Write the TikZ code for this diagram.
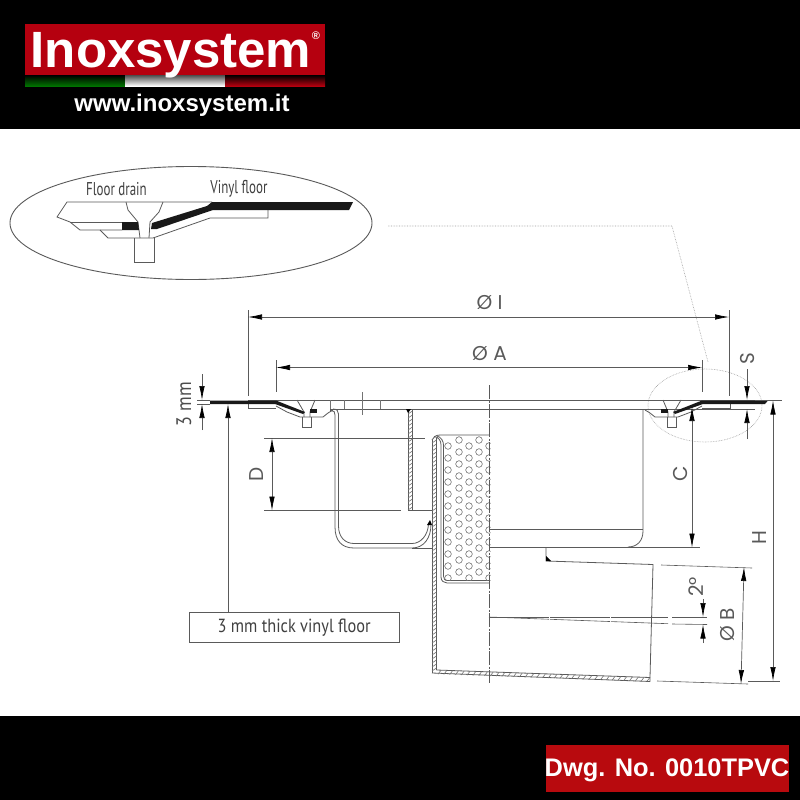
\documentclass[tikz,border=0pt]{standalone}
\usepackage{fontspec}
\setmainfont{Liberation Sans}
\newfontfamily\drawfont[FakeStretch=0.86]{PT Sans}
\newfontfamily\narrowfont[FakeStretch=0.7]{PT Sans}
\newfontfamily\dimfont{Poppins}
\usetikzlibrary{arrows.meta,shapes.geometric}
\definecolor{ink}{HTML}{5A5A5A}
\definecolor{logored}{HTML}{B5000F}
\definecolor{dwgred}{HTML}{B80A0E}
\tikzset{
  ln/.style={draw=ink,line width=0.8pt},
  fine/.style={draw=ink!85,line width=0.6pt},
  dim/.style={draw=ink,line width=0.7pt,{Latex[length=14pt,width=5.5pt,black]}-{Latex[length=14pt,width=5.5pt,black]}},
  dimend/.style={draw=ink,line width=0.7pt,-{Latex[length=14pt,width=5.5pt,black]}},
  ext/.style={draw=ink,line width=0.6pt},
  lab/.style={font=\narrowfont\fontsize{18.5}{18.5}\selectfont,text=black!75,inner sep=0pt},
  dimlab/.style={font=\dimfont\fontsize{20}{20}\selectfont,text=black!65,inner sep=0pt},
  dlab/.style={dimlab,rotate=90},
  blk/.style={fill=black!90,draw=none},
}
\begin{document}
\begin{tikzpicture}[x=1pt,y=-1pt]
\useasboundingbox (0,0) rectangle (800,800);
\fill[white] (0,0) rectangle (800,800);
\fill[black] (0,0) rectangle (800,129);
\fill[black] (0,716) rectangle (800,800);
% logo
\fill[logored] (25,24) rectangle (325,76);
\shade[top color=black,bottom color=green!45!black] (25,75) rectangle (125,86);
\shade[top color=black!70,bottom color=white] (125,75) rectangle (225,86);
\shade[top color=black,bottom color=logored] (225,75) rectangle (325,86);
\node[anchor=base,inner sep=0pt,text=white,font=\bfseries\fontsize{51}{51}\selectfont] (brand) at (171,67) {Inoxsystem};
\node[inner sep=0pt,text=white,font=\bfseries\fontsize{11}{11}\selectfont] (reg) at (316,36) {®};
\node[anchor=base,inner sep=0pt,text=white,font=\bfseries\fontsize{24}{24}\selectfont] (web) at (182,111) {www.inoxsystem.it};
% drawing number
\fill[dwgred] (546,745) rectangle (789,792);
\node[anchor=base,inner sep=0pt,text=white,font=\bfseries\fontsize{25.4}{25.4}\selectfont] (dwg) at (667,776) {Dwg. No. 0010TPVC};

% inset
\draw[draw=ink,line width=0.9pt] (191,223) ellipse [x radius=181,y radius=56.5];
\draw[ln] (212,202) -- (67,202) -- (57,217) -- (70,222) -- (80,230) -- (122,230);
\draw[ln] (70,222) -- (122,222);
\draw[ln] (100,230) -- (108,238) -- (153,238) -- (210,218) -- (268,218) -- (268,210);
\draw[ln] (126,202) -- (128,210) -- (138,222) -- (140,238);
\draw[ln] (163,202) -- (159,212) -- (150,222) -- (149,238);
\draw[ln] (134,238) -- (134,262) -- (154,262) -- (154,238);
\fill[blk] (122,222) -- (138,222) -- (139,230) -- (122,230) -- cycle;
\fill[blk] (212,202) -- (353,202) -- (349,210) -- (213,210) -- (157,229) -- (151,229) -- (152,223) -- (207,206) -- cycle;
\node[lab] (floordrain) at (116.5,189) {Floor drain};
\node[lab] (vinylfloor) at (239,189) {Vinyl floor};

% leader and dotted detail ellipse
\draw[draw=ink!60,line width=0.6pt,densely dotted] (388,226) -- (672,226) -- (708,362);
\draw[draw=ink!60,line width=0.6pt,densely dotted] (705,405.5) ellipse [x radius=57,y radius=36.5];

% plate
\draw[ln] (248,400) -- (782,400);
\draw[ln] (248,400) -- (248,408) -- (276,408);
\draw[ln] (330,409) -- (755,409);
\foreach \x in {330,344,380} \draw[fine] (\x,400) -- (\x,409);
\draw[fine] (362,392) -- (362,415);
\draw[ln] (730,400) -- (730,408) -- (702,408);
% left drain
\draw[ln] (276,406) -- (287,412) -- (300,417) -- (323,417) -- (328,413) -- (333,410);
\draw[ln] (297,400) -- (304,412) -- (304,417);
\draw[ln] (315,400) -- (310,412) -- (310,417);
\draw[ln] (302,417) -- (302,427) -- (311,427) -- (311,417);
\fill[blk] (210,400.5) -- (276,400.5) -- (305,412) -- (303,414) -- (275,404) -- (210,404) -- cycle;
\fill[blk] (310,409) -- (317,409) -- (317,413) -- (310,413) -- cycle;
% right drain
\draw[ln] (702,406) -- (691,412) -- (678,417) -- (655,417) -- (650,413) -- (645,410);
\draw[ln] (681,400) -- (674,412) -- (674,417);
\draw[ln] (663,400) -- (668,412) -- (668,417);
\draw[ln] (676,417) -- (676,427) -- (667,427) -- (667,417);
\fill[blk] (768,400.5) -- (702,400.5) -- (673,412) -- (675,414) -- (703,404) -- (765,404) -- cycle;
\fill[blk] (668,409) -- (661,409) -- (661,413) -- (668,413) -- cycle;

% bent channel (double line)
\draw[ln] (330,410.5) -- (331,410.5) .. controls (334,410.5) and (335,412) .. (335,415) -- (335,527) .. controls (335,541) and (342,548) .. (354,548) -- (412,548) .. controls (424,548) and (431,538) .. (431,524);
\draw[ln] (333,409) .. controls (337,409) and (338.5,411) .. (338.5,414) -- (338.5,526) .. controls (338.5,537) and (345,543.5) .. (354,543.5) -- (412,543.5) .. controls (421,543.5) and (428,535) .. (428.5,524);
\fill[black] (427,525) -- (430,520) -- (432,525) -- cycle;
\draw[ext] (412,548) -- (432,548);

% hatched wall 1
\draw[ln] (408,410) -- (408,510) -- (412.5,510) -- (412.5,410);
\foreach \y in {412,416,...,508} \draw[fine] (408,\y+2) -- (412.5,\y-1);
\fill[black] (406,409) -- (411,409) -- (408,413) -- cycle;
% hatched wall 2
\draw[ln] (432,440) -- (432,673);
\draw[ln] (436.5,438) -- (436.5,670);
\foreach \y in {441,445,...,669} \draw[fine] (432,\y+2) -- (436.5,\y-1);
\draw[ln] (432,440) .. controls (433,437) and (436,435) .. (440,435) -- (489,435);
% bottom hatched wall
\draw[ln] (432,673) -- (650,681.5);
\draw[ln] (436.5,670) -- (650,677.5);
\foreach \i in {0,1,...,36} {
  \pgfmathsetmacro{\xa}{438+5.8*\i}
  \pgfmathsetmacro{\ya}{670.2+0.0352*(\xa-438)}
  \draw[fine] (\xa,\ya+4) -- (\xa+3,\ya);
}
\draw[ln] (650,681.5) -- (650,677.5) -- (653,564.5) -- (546,561) -- (546,547);
\fill[black] (546,556) -- (551,561) -- (546,561) -- cycle;

% strainer
\draw[ln] (434,436.5) .. controls (439,437) and (441,441) .. (441,445) -- (441,577) .. controls (441,581) and (444,583) .. (447,583) -- (489,583);
\draw[ln] (437,436) .. controls (441,437) and (443.5,441) .. (443.5,445) -- (443.5,576) .. controls (443.5,579) and (445,580.5) .. (447,580.5) -- (489,580.5);
\begin{scope}
\clip (444,436) rectangle (490.5,580.5);
\foreach \j in {0,...,11} {
  \foreach \x in {448,469,489} \draw[fine] (\x,446+12*\j) circle [radius=3.3];
  \foreach \x in {459,479} \draw[fine] (\x,440+12*\j) circle [radius=3.3];
}
\end{scope}

% body
\draw[ln] (489,529) -- (643,529);
\draw[ln] (643,409) -- (643,531) .. controls (643,541) and (637,547) .. (628,547);
\draw[ln] (489,547.5) -- (700,547.5);
\draw[draw=ink,line width=0.7pt,dash pattern=on 14pt off 1.5pt on 2pt off 1.5pt] (489,385) -- (489,683);

% slope lines
\draw[ext,dash pattern=on 60pt off 1pt] (489,617) -- (668,617);
\draw[ext] (672,617) -- (707,617);
\draw[ext,dash pattern=on 60pt off 1pt] (489,617) -- (668,623.7);
\draw[ext] (672,624) -- (707,624.5);

% dimensions
\draw[ext] (248,310) -- (248,396);
\draw[ext] (729,310) -- (729,396);
\draw[dim] (248,317) -- (729,317);
\node[dimlab] (dI) at (489.5,303) {Ø I};
\draw[ext] (276,360) -- (276,392);
\draw[ext] (702,360) -- (702,392);
\draw[dim] (276,367.5) -- (702,367.5);
\node[dimlab] (dA) at (489.5,354) {Ø A};
% 3 mm
\draw[ext] (197,400) -- (210,400);
\draw[ext] (197,404) -- (210,404);
\draw[dimend] (202,374) -- (202,400);
\draw[dimend] (202,430) -- (202,404);
\node[font=\drawfont\fontsize{21}{21}\selectfont,text=black!70,inner sep=0pt,rotate=90] (threemm) at (184,404) {3 mm};
% S
\draw[dimend] (747,369) -- (747,400);
\draw[dimend] (747,439) -- (747,409);
\node[dlab] (dS) at (747,359) {S};
% D
\draw[ext] (264,438) -- (425,438);
\draw[ext] (264,510.5) -- (401,510.5);
\draw[ext] (408,510.5) -- (432,510.5);
\draw[dim] (272,438) -- (272,510.5);
\node[dlab] (dD) at (257,474) {D};
% C
\draw[dim] (692,407) -- (692,547.5);
\node[dlab] (dC) at (680,474) {C};
% H
\draw[ext] (755,400) -- (782,400);
\draw[dim] (773,400.5) -- (773,681);
\node[dlab] (dH) at (760,538) {H};
% B
\draw[ext] (661,565) -- (752,568);
\draw[ext] (657,681) -- (748,684);
\draw[ext] (748,681) -- (780,681);
\draw[dim] (744,567) -- (741,684);
\node[dlab] (dB) at (728,625) {Ø B};
% 2 deg
\draw[dimend] (703,599) -- (703,617);
\draw[dimend] (703,643) -- (703,624.5);
\node[dlab] (two) at (696,587) {2°};

% callout
\node[draw=ink,line width=0.8pt,minimum width=210.5pt,minimum height=29.5pt,inner sep=0pt,font=\drawfont\fontsize{19}{19}\selectfont,text=black!75] (callout) at (294.2,627.5) {3 mm thick vinyl floor};
\coordinate (vinyltip) at (228,404);
\draw[dimend] (callout.north -| vinyltip) -- (vinyltip);
\end{tikzpicture}
\end{document}
